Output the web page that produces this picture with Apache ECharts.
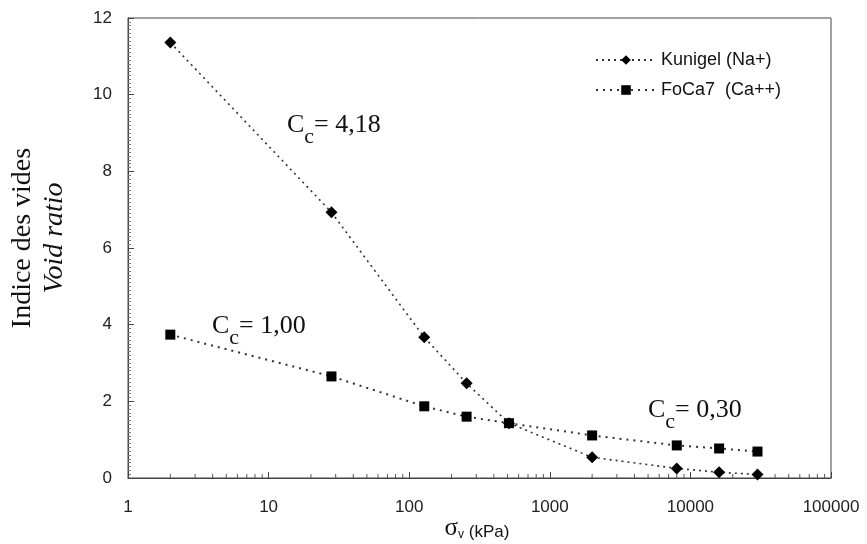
<!DOCTYPE html>
<html>
<head>
<meta charset="utf-8">
<script src="https://cdn.jsdelivr.net/npm/echarts@6/dist/echarts.min.js"></script>
<style>html,body{margin:0;padding:0;background:#fff}#c{width:867px;height:544px}</style>
</head>
<body>
<div id="c"></div>
<script>
// ---- data ----
const stressKPa = [2, 28, 128, 256, 512, 2000, 8000, 16000, 30000];
const kunigel = [11.36, 6.93, 3.67, 2.47, 1.43, 0.54, 0.25, 0.15, 0.09];
const foca7 = [3.74, 2.65, 1.87, 1.60, 1.43, 1.11, 0.85, 0.77, 0.69];
const seriesNames = ['Kunigel (Na+)', 'FoCa7  (Ca++)'];
const xTickLabels = ['1', '10', '100', '1000', '10000', '100000'];
const yTickLabels = ['0', '2', '4', '6', '8', '10', '12'];
const ccLabels = ['= 4,18', '= 1,00', '= 0,30'];

// minor log ticks 2..9 per decade
const minorTickValues = [];
[1, 10, 100, 1000, 10000].forEach(d => { for (let k = 2; k <= 9; k++) minorTickValues.push(d * k); });

const chart = echarts.init(document.getElementById('c'), null, {renderer: 'canvas'});
const serif = '"Liberation Serif", "DejaVu Serif", serif';
const sans = '"Liberation Sans", Arial, sans-serif';
const lineColor = '#333';

function ccText(val) {
  return {
    text: '{c|C}{s|c}{c|' + val + '}',
    rich: {
      c: {fontFamily: serif, fontSize: 26, lineHeight: 36, verticalAlign: 'top', fill: '#111'},
      s: {fontFamily: serif, fontSize: 22, lineHeight: 36, verticalAlign: 'bottom', fill: '#111'}
    }
  };
}

chart.setOption({
  animation: false,
  backgroundColor: '#fff',
  grid: {left: 128, right: 36, top: 18, bottom: 66, show: true, borderColor: '#444', borderWidth: 1,
         containLabel: false, outerBoundsMode: 'none'},
  legend: {
    data: seriesNames,
    orient: 'vertical',
    left: 590,
    top: 46,
    itemWidth: 60,
    itemHeight: 12,
    itemGap: 12,
    textStyle: {fontFamily: sans, fontSize: 18, color: '#111'}
  },
  xAxis: {
    type: 'log',
    logBase: 10,
    min: 1,
    max: 100000,
    axisLine: {show: true, onZero: false, lineStyle: {color: '#444', width: 1}},
    axisTick: {show: true, inside: true, length: 6, lineStyle: {color: '#444'}},
    axisLabel: {
      margin: 21, fontFamily: sans, fontSize: 17, color: '#222',
      formatter: v => xTickLabels[Math.round(Math.log10(v))]
    },
    splitLine: {show: false}
  },
  yAxis: {
    type: 'value',
    min: 0,
    max: 12,
    interval: 2,
    axisLine: {show: true, lineStyle: {color: '#444', width: 1}},
    axisTick: {show: true, inside: true, length: 6, lineStyle: {color: '#444'}},
    minorTick: {show: true, splitNumber: 20, length: 3, lineStyle: {color: '#777'}},
    axisLabel: {
      margin: 16, fontFamily: sans, fontSize: 17, color: '#222',
      formatter: v => yTickLabels[Math.round(v / 2)]
    },
    splitLine: {show: false}
  },
  graphic: [
    {type: 'text', left: 287, top: 112, style: ccText(ccLabels[0])},
    {type: 'text', left: 212, top: 313, style: ccText(ccLabels[1])},
    {type: 'text', left: 648, top: 397, style: ccText(ccLabels[2])},
    {type: 'text', x: 23, y: 238, rotation: Math.PI / 2,
     style: {text: 'Indice des vides', fontFamily: serif, fontSize: 28, fill: '#111', align: 'center', verticalAlign: 'middle'}},
    {type: 'text', x: 55, y: 238, rotation: Math.PI / 2,
     style: {text: 'Void ratio', fontFamily: serif, fontStyle: 'italic', fontSize: 28, fill: '#111', align: 'center', verticalAlign: 'middle'}},
    {type: 'text', x: 477, y: 528,
     style: {
       text: '{g|σ}{v|v}{k| (kPa)}', align: 'center', verticalAlign: 'middle',
       rich: {
         g: {fontFamily: serif, fontSize: 25, fill: '#111', verticalAlign: 'bottom', lineHeight: 26},
         v: {fontFamily: sans, fontSize: 12, fill: '#111', verticalAlign: 'bottom', lineHeight: 22},
         k: {fontFamily: sans, fontSize: 17, fill: '#111', verticalAlign: 'bottom', lineHeight: 26}
       }
     }}
  ],
  series: [
    {
      name: seriesNames[0],
      type: 'line',
      data: stressKPa.map((x, i) => [x, kunigel[i]]),
      symbol: 'diamond',
      symbolSize: 12,
      itemStyle: {color: '#000'},
      lineStyle: {color: lineColor, width: 1.6, type: [2, 4]},
      z: 3
    },
    {
      name: seriesNames[1],
      type: 'line',
      data: stressKPa.map((x, i) => [x, foca7[i]]),
      symbol: 'rect',
      symbolSize: 10,
      itemStyle: {color: '#000'},
      lineStyle: {color: lineColor, width: 2, type: [2, 5]},
      z: 3
    },
    {
      name: 'minorTicks',
      type: 'custom',
      silent: true,
      clip: false,
      data: minorTickValues.map(v => [v, 0]),
      renderItem: function (params, api) {
        const p = api.coord([api.value(0), api.value(1)]);
        return {type: 'line', shape: {x1: p[0], y1: p[1], x2: p[0], y2: p[1] - 4},
                style: {stroke: '#555', lineWidth: 1}};
      },
      z: 1
    }
  ]
});
</script>
</body>
</html>
